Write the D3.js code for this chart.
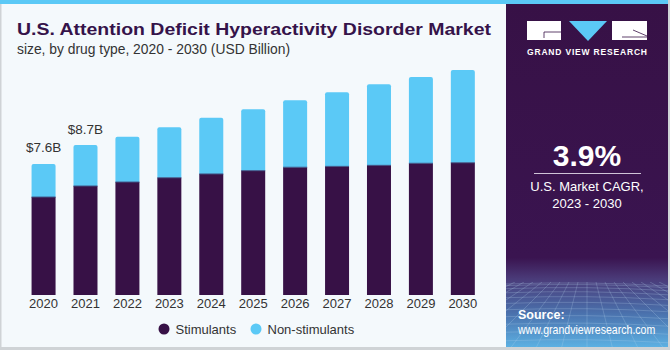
<!DOCTYPE html>
<html>
<head>
<meta charset="utf-8">
<script src="https://cdn.jsdelivr.net/npm/d3@7"></script>
<style>
  html, body { margin: 0; padding: 0; background: #fff; }
  svg { display: block; }
</style>
</head>
<body>
<div id="chart"></div>
<script>
// Data (USD Billion)
var years = ["2020", "2021", "2022", "2023", "2024", "2025", "2026", "2027", "2028", "2029", "2030"];
var stimulants = [5.68, 6.32, 6.55, 6.80, 7.02, 7.21, 7.41, 7.46, 7.52, 7.64, 7.67];
var nonStimulants = [1.92, 2.38, 2.63, 2.93, 3.26, 3.56, 3.88, 4.30, 4.70, 5.01, 5.38];
var seriesNames = ["Stimulants", "Non-stimulants"];
var valueLabels = { "2020": "$7.6B", "2021": "$8.7B" };
var cagrValue = "3.9%";
var cagrLines = ["U.S. Market CAGR,", "2023 - 2030"];

var attrs = {
  svgWidth: 670,
  svgHeight: 350,
  bg: "#f4f9fc",
  dark: "#371146",
  light: "#5bc9f6",
  text: "#333333",
  font: "'Liberation Sans', Arial, sans-serif",
  panelX: 506,
  baseline: 295
};

var rows = years.map(function (y, i) {
  return { year: y, "Stimulants": stimulants[i], "Non-stimulants": nonStimulants[i] };
});

var svg = d3.select("#chart").append("svg")
  .attr("width", attrs.svgWidth)
  .attr("height", attrs.svgHeight)
  .attr("font-family", attrs.font);

var defs = svg.append("defs");

// background + frame
svg.append("rect").attr("width", attrs.svgWidth).attr("height", attrs.svgHeight).attr("fill", attrs.bg);
svg.append("rect").attr("x", 0).attr("y", 0).attr("width", 1.5).attr("height", attrs.svgHeight).attr("fill", "#cfd3d6");
svg.append("rect").attr("x", 0).attr("y", 347).attr("width", attrs.svgWidth).attr("height", 3).attr("fill", "#cfd3d6");
svg.append("rect").attr("x", 0).attr("y", 0).attr("width", attrs.svgWidth).attr("height", 4).attr("fill", attrs.light);

// title
svg.append("text")
  .attr("x", 17).attr("y", 35)
  .attr("font-size", 17).attr("font-weight", "bold")
  .attr("fill", "#35134a")
  .attr("textLength", 474).attr("lengthAdjust", "spacingAndGlyphs")
  .text("U.S. Attention Deficit Hyperactivity Disorder Market");
svg.append("text")
  .attr("x", 17).attr("y", 54)
  .attr("font-size", 14)
  .attr("fill", attrs.text)
  .attr("textLength", 273).attr("lengthAdjust", "spacingAndGlyphs")
  .text("size, by drug type, 2020 - 2030 (USD Billion)");

// scales
var x = d3.scaleBand()
  .domain(years)
  .range([10.6, 495.8])
  .paddingInner(0.4276)
  .paddingOuter(0.5);

var y = d3.scaleLinear()
  .domain([0, 10])
  .range([attrs.baseline, attrs.baseline - 172.4]);

var color = d3.scaleOrdinal().domain(seriesNames).range([attrs.dark, attrs.light]);

var stack = d3.stack().keys(seriesNames);
var layers = stack(rows);

function topRounded(x0, y0, w, h, r) {
  r = Math.min(r, h);
  return "M" + x0 + "," + (y0 + h) +
    "V" + (y0 + r) +
    "Q" + x0 + "," + y0 + " " + (x0 + r) + "," + y0 +
    "H" + (x0 + w - r) +
    "Q" + (x0 + w) + "," + y0 + " " + (x0 + w) + "," + (y0 + r) +
    "V" + (y0 + h) + "Z";
}

var chart = svg.append("g").attr("class", "bars");

layers.forEach(function (layer, li) {
  chart.append("g")
    .attr("fill", color(layer.key))
    .selectAll("path")
    .data(layer)
    .enter()
    .append("path")
    .attr("d", function (d) {
      var y0 = y(d[1]), h = y(d[0]) - y(d[1]);
      return li === layers.length - 1
        ? topRounded(x(d.data.year), y0, x.bandwidth(), h, 2)
        : "M" + x(d.data.year) + "," + y0 + "h" + x.bandwidth() + "v" + h + "h" + (-x.bandwidth()) + "Z";
    });
});

// thin seam between the two segments
chart.append("g").selectAll("line")
  .data(layers[0])
  .enter()
  .append("line")
  .attr("x1", function (d) { return x(d.data.year); })
  .attr("x2", function (d) { return x(d.data.year) + x.bandwidth(); })
  .attr("y1", function (d) { return y(d[1]); })
  .attr("y2", function (d) { return y(d[1]); })
  .attr("stroke", "#3f4f80")
  .attr("stroke-width", 1);

// value labels
chart.append("g").selectAll("text")
  .data(layers[layers.length - 1].filter(function (d) { return valueLabels[d.data.year]; }))
  .enter()
  .append("text")
  .attr("x", function (d) { return x(d.data.year) + x.bandwidth() / 2; })
  .attr("y", function (d) { return y(d[1]) - 11.5; })
  .attr("text-anchor", "middle")
  .attr("font-size", 13.5)
  .attr("fill", attrs.text)
  .text(function (d) { return valueLabels[d.data.year]; });

// x axis (labels only)
var xAxis = svg.append("g")
  .attr("transform", "translate(0," + attrs.baseline + ")")
  .call(d3.axisBottom(x).tickSize(0).tickPadding(4));
xAxis.select(".domain").remove();
xAxis.selectAll("text")
  .attr("font-size", 13)
  .attr("font-family", attrs.font)
  .attr("fill", attrs.text);

// legend
var legend = svg.append("g").attr("class", "legend");
var legendX = [164, 256];
seriesNames.forEach(function (name, i) {
  legend.append("circle")
    .attr("cx", legendX[i]).attr("cy", 329).attr("r", 5.5)
    .attr("fill", color(name));
  legend.append("text")
    .attr("x", legendX[i] + 11.5).attr("y", 333.5)
    .attr("font-size", 13)
    .attr("fill", attrs.text)
    .text(name);
});

// right panel
var panelW = 668 - attrs.panelX;
var grad = defs.append("linearGradient")
  .attr("id", "panelGrad").attr("x1", 0).attr("y1", 0).attr("x2", 0).attr("y2", 1);
grad.append("stop").attr("offset", "0%").attr("stop-color", attrs.dark);
grad.append("stop").attr("offset", "74%").attr("stop-color", "#3a1450");
grad.append("stop").attr("offset", "80%").attr("stop-color", "#4a3a78");
grad.append("stop").attr("offset", "90%").attr("stop-color", "#4a70ac");
grad.append("stop").attr("offset", "100%").attr("stop-color", "#5cb0e2");

var panel = svg.append("g").attr("class", "panel");
panel.append("rect")
  .attr("x", attrs.panelX).attr("y", 4)
  .attr("width", panelW).attr("height", 343)
  .attr("fill", "url(#panelGrad)");
panel.append("rect")
  .attr("x", 668).attr("y", 0).attr("width", 2).attr("height", 350).attr("fill", "#cfd3d6");

// perspective grid decoration
defs.append("clipPath").attr("id", "gridClip")
  .append("rect").attr("x", attrs.panelX).attr("y", 282).attr("width", panelW).attr("height", 65);
var grid = panel.append("g").attr("clip-path", "url(#gridClip)")
  .attr("stroke", "#b9d4f0").attr("stroke-opacity", 0.35).attr("stroke-width", 0.7).attr("fill", "none");
d3.range(0, 14).forEach(function (k) {
  var gy = 284 + Math.pow(k, 1.55) * 1.6;
  grid.append("path").attr("d", "M" + attrs.panelX + "," + gy + "Q587," + (gy - 3) + " 668," + (gy + 2));
});
d3.range(-20, 21).forEach(function (k) {
  grid.append("line")
    .attr("x1", 587 + k * 9).attr("y1", 282)
    .attr("x2", 587 + k * 26).attr("y2", 350);
});

// logo
var logo = panel.append("g").attr("class", "logo");
logo.append("rect").attr("x", 527).attr("y", 21).attr("width", 34).attr("height", 19).attr("fill", "#fff");
logo.append("path").attr("d", "M569,21H607L588,41Z").attr("fill", attrs.light);
logo.append("rect").attr("x", 612).attr("y", 21).attr("width", 35).attr("height", 19).attr("fill", "#fff");
logo.append("path").attr("d", "M561,32H544V38").attr("stroke", attrs.dark).attr("stroke-width", 0.8).attr("fill", "none");
logo.append("path").attr("d", "M633,30L647,36M647,37H622").attr("stroke", attrs.dark).attr("stroke-width", 0.8).attr("fill", "none");
logo.append("text")
  .attr("x", 527).attr("y", 54.5)
  .attr("font-size", 8.5).attr("font-weight", "bold")
  .attr("fill", "#fff")
  .attr("textLength", 120).attr("lengthAdjust", "spacing")
  .text("GRAND VIEW RESEARCH");

// CAGR
panel.append("text")
  .attr("x", 587).attr("y", 166)
  .attr("text-anchor", "middle")
  .attr("font-size", 30).attr("font-weight", "bold")
  .attr("fill", "#fff")
  .text(cagrValue);
panel.append("line")
  .attr("x1", 534).attr("x2", 641).attr("y1", 173.5).attr("y2", 173.5)
  .attr("stroke", "#cfc4d8").attr("stroke-width", 1.2);
panel.selectAll(".cagr-line")
  .data(cagrLines)
  .enter()
  .append("text")
  .attr("class", "cagr-line")
  .attr("x", 587)
  .attr("y", function (d, i) { return 190.5 + i * 17.5; })
  .attr("text-anchor", "middle")
  .attr("font-size", 13)
  .attr("fill", "#fff")
  .text(function (d) { return d; });

// source (condensed horizontally to fit the panel)
panel.append("text")
  .attr("x", 518).attr("y", 319)
  .attr("font-size", 12.5).attr("font-weight", "bold")
  .attr("fill", "#fff")
  .text("Source:");
panel.append("text")
  .attr("transform", "translate(518,333.5) scale(0.845,1)")
  .attr("font-size", 12.5)
  .attr("fill", "#fff")
  .text("www.grandviewresearch.com");
</script>
</body>
</html>
